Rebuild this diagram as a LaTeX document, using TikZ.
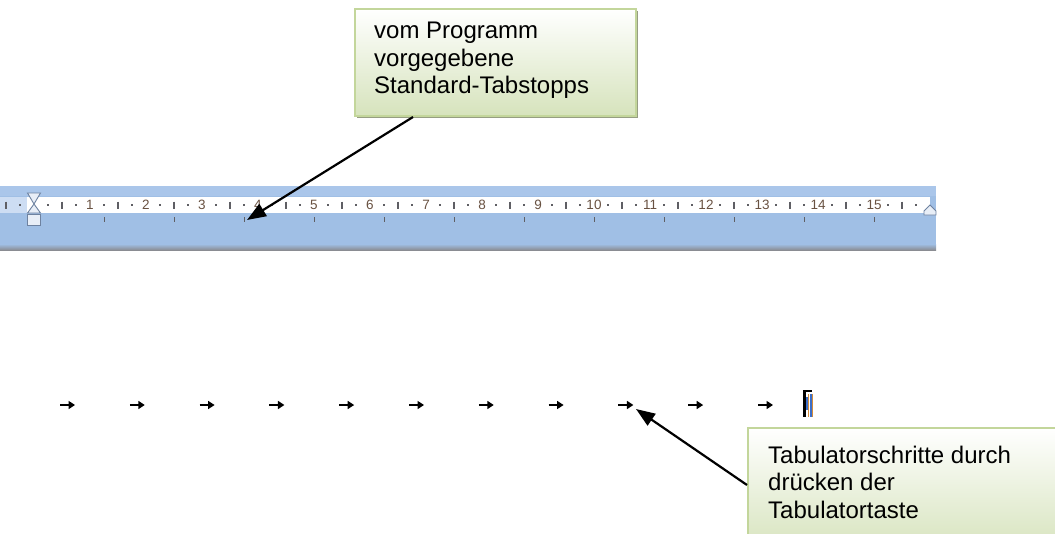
\documentclass[tikz,border=0pt]{standalone}
\usepackage{fontspec}
\setmainfont{Liberation Sans}
\usetikzlibrary{arrows.meta}

\definecolor{rulerblue}{RGB}{160,191,229}
\definecolor{rulertop}{RGB}{170,198,234}
\definecolor{rulermargin}{RGB}{205,221,243}
\definecolor{rulerbase}{RGB}{138,140,146}
\definecolor{rulernum}{RGB}{105,82,66}
\definecolor{tickgrey}{RGB}{95,95,100}
\definecolor{boxedge}{RGB}{195,214,155}
\definecolor{boxfill}{RGB}{214,227,188}
\definecolor{boxshadow}{RGB}{150,158,130}
\definecolor{markedge}{RGB}{110,130,160}
\definecolor{markfill}{RGB}{232,238,247}
\definecolor{pilblue}{RGB}{60,110,200}
\definecolor{pilorange}{RGB}{210,140,60}

\begin{document}
\begin{tikzpicture}[x=1pt,y=-1pt,
  callout/.style={draw=boxedge, line width=2pt, top color=white, bottom color=boxfill,
    inner sep=0, anchor=north west},
  callouttext/.style={anchor=north west, inner sep=0, align=left,
    font=\fontsize{24}{27.5}\selectfont},
  pointer/.style={line width=2.2pt, -{Triangle[length=19pt,width=14pt]}},
  tabmark/.style={line width=2.4pt, -{Triangle[length=6.5pt,width=8pt]}},
  rulerno/.style={font=\fontsize{13.5}{15}\selectfont, text=rulernum, inner sep=0},
  marker/.style={fill=markfill, draw=markedge, line width=0.9pt},
]
\useasboundingbox (0,0) rectangle (1055,533);
\clip (0,0) rectangle (1055,533);

% ---- ruler bar ----
\fill[rulerblue] (0,186) rectangle (936,248);
\fill[rulertop] (0,186) rectangle (936,196);
\fill[rulermargin] (0,197) rectangle (27,213);
\fill[white] (27,197) rectangle (930,213);
\shade[top color=rulerblue, bottom color=rulerbase] (0,244) rectangle (936,250);

% half-centimetre bars and quarter dots
\foreach \h in {-0.5,0.5,...,15.5}
  \draw[tickgrey, line width=1.1pt] (34+56*\h,201.5) -- (34+56*\h,209);
\foreach \q in {-0.25,0.25,...,15.75}
  \fill[tickgrey] (34+56*\q-1,204) rectangle ++(2,2);
% centimetre numbers
\foreach \n in {1,...,15}
  \node[rulerno] (num\n) at (34+56*\n,205) {\n};
% default tab stops every 1.25 cm
\foreach \k in {1,...,12}
  \draw[tickgrey, line width=1pt] (34+70*\k,217) -- ++(0,5);
\coordinate (stop3) at (247,220);

% indent markers
\filldraw[marker] (27.5,193) -- (40.5,193) -- (34,204) -- cycle;
\filldraw[marker] (34,204) -- (40.5,213) -- (27.5,213) -- cycle;
\filldraw[marker] (27.5,214) rectangle (40.5,225);
\filldraw[marker] (924,215) -- (924,211) -- (930,205) -- (936,211) -- (936,215) -- cycle;

% ---- tab characters in the text line ----
\foreach \k in {0,...,10}
  \draw[tabmark] (60+69.8*\k,405) -- ++(15,0);
\coordinate (tabhit) at (636,409);

% cursor and paragraph mark
\fill[black] (803,390) rectangle (805.5,417);
\fill[black] (803,390) rectangle (812,392);
\fill[pilblue] (805.5,397) rectangle (807.5,410);
\fill[pilorange] (807.5,394) rectangle (809,417);
\fill[pilblue] (810,394) rectangle (811.8,417);
\fill[pilorange] (811.8,394) rectangle (813,417);

% ---- upper callout ----
\fill[boxshadow] (357,11) rectangle (638,118);
\node[callout, minimum width=281pt, minimum height=107pt] (topbox) at (354,8) {};
\node[callouttext] (toptext) at (374,22)
  {vom Programm\\vorgegebene\\Standard-Tabstopps};
\coordinate (topfoot) at ([xshift=59pt]topbox.south west);
\draw[pointer] (topfoot) -- (stop3);

% ---- lower callout ----
\node[callout, minimum width=330pt, minimum height=125pt] (btmbox) at (747,427) {};
\node[callouttext] (btmtext) at (768,445.8)
  {Tabulatorschritte durch\\drücken der\\Tabulatortaste};
\coordinate (btmfoot) at ([yshift=-58pt]btmbox.north west);
\draw[pointer] (btmfoot) -- (tabhit);
\end{tikzpicture}
\end{document}
